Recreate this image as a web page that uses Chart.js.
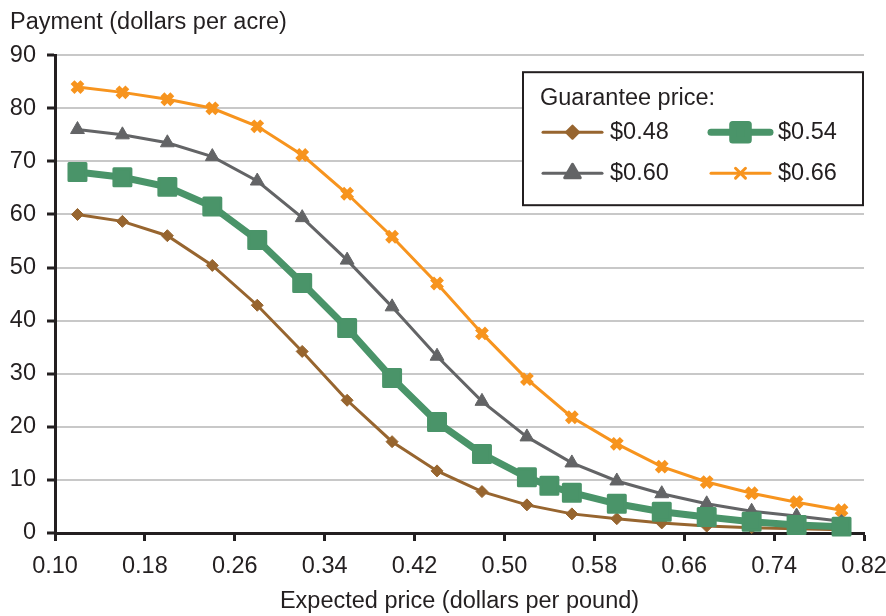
<!DOCTYPE html>
<html>
<head>
<meta charset="utf-8">
<script src="https://cdn.jsdelivr.net/npm/chart.js@4.4.1/dist/chart.umd.min.js"></script>
<style>
  html, body { margin: 0; padding: 0; background: #fff; }
</style>
</head>
<body>
<canvas id="chart" width="886" height="616"></canvas>
<script>
// expected price (dollars per pound) for each point
const expectedPrice = [0.12, 0.16, 0.20, 0.24, 0.28, 0.32, 0.36, 0.40, 0.44, 0.48, 0.52, 0.56, 0.60, 0.64, 0.68, 0.72, 0.76, 0.80];
// the $0.54 series has a couple of extra points around 0.54
const expectedPrice054 = [0.12, 0.16, 0.20, 0.24, 0.28, 0.32, 0.36, 0.40, 0.44, 0.48, 0.52, 0.54, 0.56, 0.60, 0.64, 0.68, 0.72, 0.76, 0.80];

// payment (dollars per acre) by guarantee price
const payment048 = [60, 58.7, 56, 50.4, 42.9, 34.2, 25, 17.2, 11.7, 7.8, 5.3, 3.6, 2.7, 1.9, 1.3, 1, 0.8, 0.6];
const payment054 = [68, 67, 65.2, 61.5, 55.2, 47.1, 38.6, 29.2, 20.9, 14.9, 10.5, 8.9, 7.6, 5.5, 4, 3, 2.1, 1.5, 1.2];
const payment060 = [76, 75, 73.5, 70.9, 66.3, 59.4, 51.4, 42.6, 33.3, 24.8, 18.1, 13.2, 9.8, 7.4, 5.5, 4.1, 3.2, 2.2];
const payment066 = [84, 83, 81.7, 80, 76.6, 71.2, 63.9, 55.8, 47, 37.6, 29, 21.8, 16.8, 12.5, 9.6, 7.5, 5.8, 4.3];

const seriesLabels = ['$0.48', '$0.54', '$0.60', '$0.66'];
const xTicks = [0.10, 0.18, 0.26, 0.34, 0.42, 0.50, 0.58, 0.66, 0.74, 0.82];
const yTicks = [0, 10, 20, 30, 40, 50, 60, 70, 80, 90];

const FONT = '"Liberation Sans", Arial, Helvetica, sans-serif';
const FONT_SIZE = 23.5;
const INK = '#231f20';

const toPoints = (xs, ys) => xs.map((x, i) => ({x: x, y: ys[i]}));

// softer marker corners, like the original
const roundJoins = {
    id: 'roundJoins',
    beforeDatasetsDraw(chart) {
        chart.ctx.lineJoin = 'round';
    }
};

// legend drawn inside the plot, top right, like the original
const boxLegend = {
    id: 'boxLegend',
    afterDraw(chart) {
        const ctx = chart.ctx;
        const area = chart.chartArea;
        const left = area.right - 341;
        const top = area.top + 17;
        const w = 340, h = 133;

        ctx.save();
        ctx.fillStyle = '#fff';
        ctx.fillRect(left, top, w, h);
        ctx.strokeStyle = INK;
        ctx.lineWidth = 2;
        ctx.lineJoin = 'miter';
        ctx.strokeRect(left, top, w, h);

        ctx.font = FONT_SIZE + 'px ' + FONT;
        ctx.fillStyle = INK;
        ctx.textBaseline = 'middle';
        ctx.textAlign = 'left';
        ctx.fillText('Guarantee price:', left + 17, top + 26);

        const slots = [
            {x: left + 20, y: top + 60},
            {x: left + 188, y: top + 60},
            {x: left + 20, y: top + 101},
            {x: left + 188, y: top + 101}
        ];
        ctx.lineJoin = 'round';
        chart.data.datasets.forEach((ds, i) => {
            const s = slots[i];
            ctx.strokeStyle = ds.borderColor;
            ctx.lineWidth = ds.borderWidth;
            ctx.lineCap = 'round';
            ctx.beginPath();
            ctx.moveTo(s.x, s.y);
            ctx.lineTo(s.x + 59, s.y);
            ctx.stroke();
            ctx.fillStyle = ds.pointBackgroundColor;
            ctx.strokeStyle = ds.pointBorderColor;
            Chart.helpers.drawPoint(ctx, {
                pointStyle: ds.pointStyle,
                radius: ds.legendRadius,
                rotation: 0,
                borderWidth: ds.pointBorderWidth
            }, s.x + 29.5, s.y);
            ctx.fillStyle = INK;
            ctx.fillText(ds.label, s.x + 67, s.y);
        });
        ctx.restore();
    }
};

const ctx = document.getElementById('chart').getContext('2d');
new Chart(ctx, {
    type: 'line',
    data: {
        datasets: [
            {
                label: seriesLabels[0],
                data: toPoints(expectedPrice, payment048),
                borderColor: '#97652f',
                backgroundColor: '#97652f',
                pointBackgroundColor: '#97652f',
                pointBorderColor: '#97652f',
                borderWidth: 3,
                pointStyle: 'rectRot',
                pointRadius: 6,
                legendRadius: 6,
                pointBorderWidth: 1,
                order: 3
            },
            {
                label: seriesLabels[1],
                data: toPoints(expectedPrice054, payment054),
                borderColor: '#4a9469',
                backgroundColor: '#4a9469',
                pointBackgroundColor: '#4a9469',
                pointBorderColor: '#4a9469',
                borderWidth: 7,
                pointStyle: 'rect',
                pointRadius: 12,
                legendRadius: 11,
                pointBorderWidth: 3,
                order: 0
            },
            {
                label: seriesLabels[2],
                data: toPoints(expectedPrice, payment060),
                borderColor: '#636466',
                backgroundColor: '#636466',
                pointBackgroundColor: '#636466',
                pointBorderColor: '#636466',
                borderWidth: 3,
                pointStyle: 'triangle',
                pointRadius: 8,
                legendRadius: 9,
                pointBorderWidth: 1,
                order: 2
            },
            {
                label: seriesLabels[3],
                data: toPoints(expectedPrice, payment066),
                borderColor: '#f7941e',
                backgroundColor: '#f7941e',
                pointBackgroundColor: '#f7941e',
                pointBorderColor: '#f7941e',
                borderWidth: 3,
                pointStyle: 'crossRot',
                pointRadius: 7,
                legendRadius: 7,
                pointBorderWidth: 5.5,
                order: 1
            }
        ]
    },
    options: {
        responsive: false,
        animation: false,
        clip: false,
        layout: {padding: {left: 10, right: 0, top: 0, bottom: 0}},
        elements: {line: {tension: 0}},
        plugins: {
            legend: {display: false},
            tooltip: {enabled: false},
            title: {
                display: true,
                text: 'Payment (dollars per acre)',
                align: 'start',
                color: INK,
                font: {family: FONT, size: FONT_SIZE, weight: 'normal'},
                padding: {top: 8, bottom: 19}
            }
        },
        scales: {
            x: {
                type: 'linear',
                min: 0.10,
                max: 0.82,
                afterBuildTicks: (scale) => {
                    scale.ticks = xTicks.map(v => ({value: v}));
                },
                afterFit: (scale) => {
                    scale.height = 83;
                    scale.paddingLeft = 0;
                    scale.paddingRight = 22;
                },
                ticks: {
                    color: INK,
                    font: {family: FONT, size: FONT_SIZE},
                    padding: 11,
                    maxRotation: 0,
                    autoSkip: false,
                    callback: (value) => Number(value).toFixed(2)
                },
                grid: {
                    drawOnChartArea: false,
                    drawTicks: true,
                    tickLength: 8,
                    tickWidth: 3,
                    tickColor: INK
                },
                border: {display: true, color: INK, width: 3},
                title: {
                    display: true,
                    text: 'Expected price (dollars per pound)',
                    color: INK,
                    font: {family: FONT, size: FONT_SIZE},
                    padding: {top: 9, bottom: 0}
                }
            },
            y: {
                min: 0,
                max: 90,
                afterBuildTicks: (scale) => {
                    scale.ticks = yTicks.map(v => ({value: v}));
                },
                afterFit: (scale) => {
                    scale.width = 45;
                },
                ticks: {
                    color: INK,
                    font: {family: FONT, size: FONT_SIZE},
                    padding: 11
                },
                grid: {
                    color: '#c8c8c8',
                    lineWidth: 2,
                    drawTicks: true,
                    tickLength: 8,
                    tickWidth: 3,
                    tickColor: INK
                },
                border: {display: true, color: INK, width: 3}
            }
        }
    },
    plugins: [roundJoins, boxLegend]
});
</script>
</body>
</html>
